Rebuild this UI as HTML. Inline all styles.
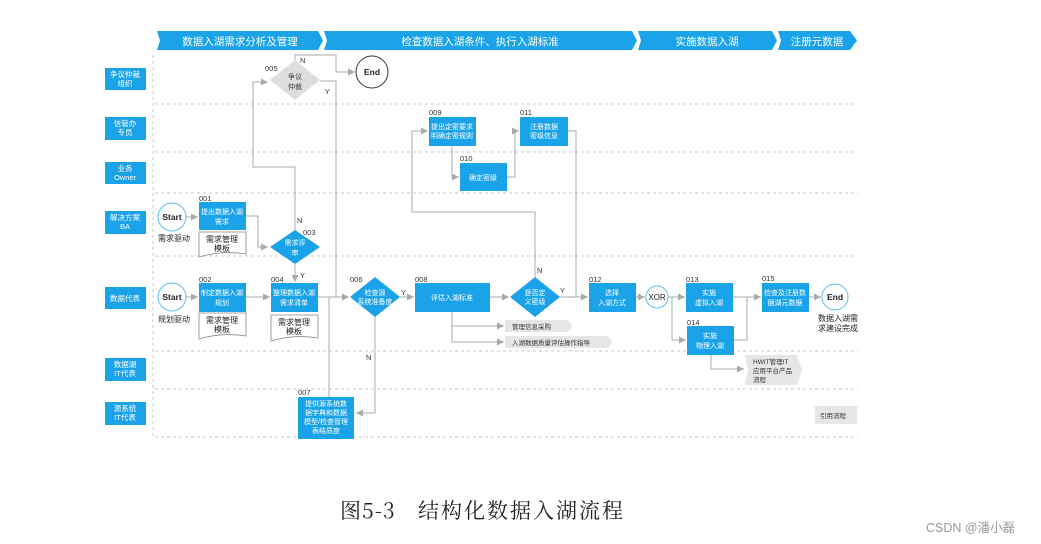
<!DOCTYPE html>
<html><head><meta charset="utf-8"><style>
html,body{margin:0;padding:0;background:#fff;}
svg{display:block;font-family:"Liberation Sans","Noto Sans CJK SC",sans-serif;}
</style></head><body>
<svg width="1041" height="544" viewBox="0 0 1041 544" xmlns="http://www.w3.org/2000/svg">
<defs>
<marker id="a" markerWidth="8" markerHeight="8" refX="7" refY="4" orient="auto" markerUnits="userSpaceOnUse"><path d="M0,0.5 L7,4 L0,7.5z" fill="#aaa"/></marker>
</defs>
<rect width="1041" height="544" fill="#fff"/>
<!-- header -->
<g fill="#1aa3e8">
<path d="M157,31 H318 L323,40.5 L318,50 H157 L160,40.5z"/>
<path d="M324,31 H632 L637,40.5 L632,50 H324 L327,40.5z"/>
<path d="M638,31 H772 L777,40.5 L772,50 H638 L641,40.5z"/>
<path d="M778,31 H850 L857,40.5 L850,50 H778 L781,40.5z"/>
</g>
<g fill="#fff" font-size="10.5" text-anchor="middle">
<text x="240" y="45">数据入湖需求分析及管理</text>
<text x="480" y="45">检查数据入湖条件、执行入湖标准</text>
<text x="707" y="45">实施数据入湖</text>
<text x="817" y="45">注册元数据</text>
</g>
<!-- lane separators -->
<g stroke="#c8c8c8" stroke-dasharray="3,3" fill="none">
<line x1="153" y1="55" x2="153" y2="437"/>
<line x1="155" y1="104" x2="858" y2="104"/>
<line x1="155" y1="152" x2="858" y2="152"/>
<line x1="155" y1="193" x2="858" y2="193"/>
<line x1="155" y1="256" x2="858" y2="256"/>
<line x1="155" y1="351" x2="858" y2="351"/>
<line x1="155" y1="389" x2="858" y2="389"/>
<line x1="155" y1="437" x2="858" y2="437"/>
</g>
<!-- lane labels -->
<g fill="#1aa3e8">
<rect x="105" y="68" width="41" height="22"/>
<rect x="105" y="117" width="41" height="23"/>
<rect x="105" y="162" width="41" height="22"/>
<rect x="105" y="211" width="41" height="23"/>
<rect x="105" y="287" width="41" height="22"/>
<rect x="105" y="358" width="41" height="23"/>
<rect x="105" y="402" width="41" height="23"/>
</g>
<g fill="#fff" font-size="7.5" text-anchor="middle">
<text x="125" y="77">争议仲裁</text><text x="125" y="86">组织</text>
<text x="125" y="126">信管办</text><text x="125" y="135">专员</text>
<text x="125" y="171">业务</text><text x="125" y="180">Owner</text>
<text x="125" y="220">解决方案</text><text x="125" y="229">BA</text>
<text x="125" y="301">数据代表</text>
<text x="125" y="367">数据湖</text><text x="125" y="376">IT代表</text>
<text x="125" y="411">源系统</text><text x="125" y="420">IT代表</text>
</g>
<!-- connectors -->
<g stroke="#aaa" stroke-width="1" fill="none">
<polyline points="295,60 295,55 336,55 336,72 355,72" marker-end="url(#a)"/>
<polyline points="320,81 336,81 336,297"/>
<polyline points="295,230 295,167 253,167 253,82 268,82" marker-end="url(#a)"/>
<polyline points="246,216 258,216 258,247 268,247" marker-end="url(#a)"/>
<line x1="186" y1="217" x2="198" y2="217" marker-end="url(#a)"/>
<line x1="295" y1="264" x2="295" y2="282" marker-end="url(#a)"/>
<line x1="186" y1="297" x2="198" y2="297" marker-end="url(#a)"/>
<line x1="246" y1="297" x2="270" y2="297" marker-end="url(#a)"/>
<line x1="318" y1="297" x2="349" y2="297" marker-end="url(#a)"/>
<line x1="329" y1="397" x2="329" y2="297"/>
<polyline points="375,317 375,413 356,413" marker-end="url(#a)"/>
<line x1="400" y1="297" x2="414" y2="297" marker-end="url(#a)"/>
<line x1="490" y1="297" x2="509" y2="297" marker-end="url(#a)"/>
<polyline points="452,312 452,326 504,326" marker-end="url(#a)"/>
<polyline points="452,326 452,342 504,342" marker-end="url(#a)"/>
<polyline points="535,277 535,212 412,212 412,131 428,131" marker-end="url(#a)"/>
<polyline points="452,146 452,177 459,177" marker-end="url(#a)"/>
<polyline points="507,177 515,177 515,131 519,131" marker-end="url(#a)"/>
<polyline points="568,131 576,131 576,297"/>
<line x1="560" y1="297" x2="588" y2="297" marker-end="url(#a)"/>
<line x1="636" y1="297" x2="645" y2="297" marker-end="url(#a)"/>
<line x1="668" y1="297" x2="685" y2="297" marker-end="url(#a)"/>
<polyline points="672,297 672,340 686,340" marker-end="url(#a)"/>
<polyline points="733,297 747,297"/>
<polyline points="734,340 747,340 747,297 761,297" marker-end="url(#a)"/>
<line x1="809" y1="297" x2="821" y2="297" marker-end="url(#a)"/>
<polyline points="711,355 711,369 744,369" marker-end="url(#a)"/>
</g>
<!-- diamonds -->
<polygon points="295,60 320,80 295,100 270,80" fill="#ddd"/>
<polygon points="295,230 320,247 295,264 270,247" fill="#1aa3e8"/>
<polygon points="375,277 400,297 375,317 350,297" fill="#1aa3e8"/>
<polygon points="535,277 560,297 535,317 510,297" fill="#1aa3e8"/>
<!-- boxes -->
<g fill="#1aa3e8">
<rect x="199" y="202" width="47" height="28"/>
<rect x="199" y="283" width="47" height="29"/>
<rect x="271" y="283" width="47" height="29"/>
<rect x="415" y="283" width="75" height="29"/>
<rect x="298" y="397" width="56" height="42"/>
<rect x="429" y="117" width="47" height="29"/>
<rect x="460" y="163" width="47" height="28"/>
<rect x="520" y="117" width="48" height="29"/>
<rect x="589" y="283" width="47" height="29"/>
<rect x="686" y="283" width="47" height="29"/>
<rect x="687" y="326" width="47" height="29"/>
<rect x="762" y="283" width="47" height="29"/>
</g>
<!-- docs -->
<g fill="#fff" stroke="#888" stroke-width="0.8">
<path d="M199,232 H246 V254 Q222,250 199,257z"/>
<path d="M199,313 H246 V336 Q222,332 199,339z"/>
<path d="M271,315 H318 V338 Q294,334 271,341z"/>
</g>
<!-- grey tags -->
<g fill="#e6e6e6">
<path d="M505,320 H568 L572,326 L568,332 H505z"/>
<path d="M505,336 H608 L612,342 L608,348 H505z"/>
<path d="M745,355 H797 L802,370 L797,385 H745 L748,370z"/>
<rect x="815" y="406" width="42" height="18"/>
</g>
<!-- circles -->
<g fill="#fff" stroke-width="1">
<circle cx="372" cy="72" r="16" stroke="#333"/>
<circle cx="172" cy="217" r="14" stroke="#5bc0eb"/>
<circle cx="172" cy="297" r="14" stroke="#5bc0eb"/>
<circle cx="657" cy="297" r="11" stroke="#5bc0eb"/>
<circle cx="835" cy="297" r="13" stroke="#5bc0eb"/>
</g>
<g font-size="8.5" fill="#222" text-anchor="middle" font-weight="bold">
<text x="372" y="75">End</text>
<text x="172" y="220">Start</text>
<text x="172" y="300">Start</text>
<text x="835" y="300">End</text>
</g>
<text x="657" y="300" font-size="8" text-anchor="middle" fill="#222">XOR</text>
<!-- box text -->
<g fill="#fff" font-size="7" text-anchor="middle">
<text x="222" y="214">提出数据入湖</text><text x="222" y="224">需求</text>
<text x="222" y="295">制定数据入湖</text><text x="222" y="305">规划</text>
<text x="294" y="295">整理数据入湖</text><text x="294" y="305">需求清单</text>
<text x="452" y="300">评估入湖标准</text>
<text x="326" y="406">提供源系统数</text><text x="326" y="415">据字典和数据</text><text x="326" y="424">模型/检查管理</text><text x="326" y="433">表结质度</text>
<text x="452" y="129">提出定密要求</text><text x="452" y="138">明确定密规则</text>
<text x="483" y="180">确定密级</text>
<text x="544" y="129">注册数据</text><text x="544" y="138">密级信息</text>
<text x="612" y="295">选择</text><text x="612" y="305">入湖方式</text>
<text x="709" y="295">实施</text><text x="709" y="305">虚拟入湖</text>
<text x="710" y="338">实施</text><text x="710" y="348">物理入湖</text>
<text x="785" y="295">检查及注册数</text><text x="785" y="305">据湖元数据</text>
<text x="295" y="245">需求评</text><text x="295" y="255">审</text>
<text x="375" y="295">检查源</text><text x="375" y="304">系统准备度</text>
<text x="535" y="295">是否定</text><text x="535" y="304">义密级</text>
</g>
<g fill="#444" font-size="7" text-anchor="middle">
<text x="295" y="79">争议</text><text x="295" y="89">仲裁</text>
</g>
<g fill="#222" font-size="8" text-anchor="middle">
<text x="222" y="242">需求管理</text><text x="222" y="251">模板</text>
<text x="222" y="323">需求管理</text><text x="222" y="332">模板</text>
<text x="294" y="325">需求管理</text><text x="294" y="334">模板</text>
<text x="174" y="241">需求驱动</text>
<text x="174" y="322">规划驱动</text>
<text x="838" y="321">数据入湖需</text><text x="838" y="331">求建设完成</text>
</g>
<g fill="#333" font-size="6.5">
<text x="512" y="329">管理信息采购</text>
<text x="512" y="345">入湖数据质量评估操作指导</text>
<text x="753" y="364">HWIT管理IT</text><text x="753" y="373">应用平台产品</text><text x="753" y="382">流程</text>
<text x="820" y="418">引用流程</text>
</g>
<g fill="#333" font-size="7.5">
<text x="265" y="71">005</text><text x="300" y="63">N</text><text x="325" y="94">Y</text>
<text x="199" y="201">001</text><text x="303" y="235">003</text><text x="297" y="223">N</text><text x="300" y="278">Y</text>
<text x="199" y="282">002</text><text x="271" y="282">004</text><text x="350" y="282">006</text>
<text x="401" y="295">Y</text><text x="415" y="282">008</text><text x="366" y="360">N</text>
<text x="298" y="395">007</text><text x="429" y="115">009</text><text x="460" y="161">010</text><text x="520" y="115">011</text>
<text x="537" y="273">N</text><text x="560" y="293">Y</text>
<text x="589" y="282">012</text><text x="686" y="282">013</text><text x="687" y="325">014</text><text x="762" y="281">015</text>
</g>
<g font-size="21" font-family="'Noto Serif CJK SC','Liberation Serif',serif" fill="#222">
<text x="340" y="518" letter-spacing="1">图5-3</text>
<text x="418" y="518" letter-spacing="2">结构化数据入湖流程</text>
</g>
<text x="926" y="532" font-size="12.5" fill="#999">CSDN @潘小磊</text>
</svg>
</body></html>
